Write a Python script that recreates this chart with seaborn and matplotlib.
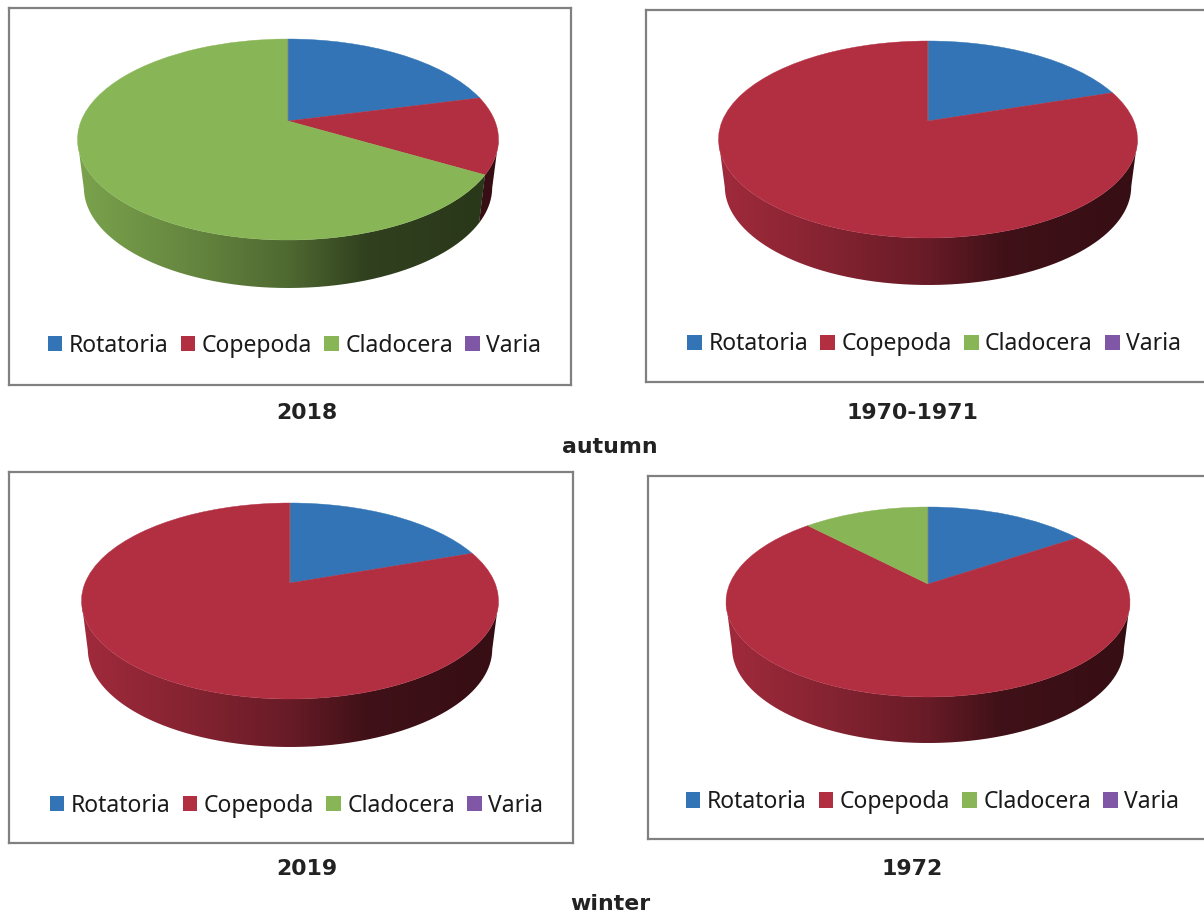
import numpy as np
import matplotlib
matplotlib.use("Agg")
import matplotlib.pyplot as plt
from matplotlib.patches import Patch, PathPatch
from matplotlib.path import Path
from matplotlib.transforms import Transform
import seaborn as sns

# ---- data (percent shares) ----
categories = ["Rotatoria", "Copepoda", "Cladocera", "Varia"]
values_2018 = [21.0, 12.4, 66.6, 0.0]
values_1970 = [19.9, 80.1, 0.0, 0.0]
values_2019 = [19.6, 80.4, 0.0, 0.0]
values_1972 = [15.6, 72.3, 12.1, 0.0]
colors = ["#3274b5", "#b22f42", "#88b555", "#7f57a6"]
year_labels = ["2018", "1970-1971", "2019", "1972"]
season_labels = ["autumn", "winter"]

W, H = 1204, 916

# frame (x0, y0, x1, y1), pie apex (cx, cy), top, bottom, left, right of the ellipse, depth, legend centre
layout = [
    (values_2018, (9, 8, 571, 385), (288, 121), 39, 240, 78, 499, 48, (294.5, 345.5)),
    (values_1970, (646, 10, 1210, 382), (928, 121), 41, 238, 719, 1138, 47, (934, 344.5)),
    (values_2019, (9, 472, 573, 843), (290, 583), 503, 699, 82, 499, 48, (296.5, 805.5)),
    (values_1972, (648, 476, 1210, 839), (928, 584), 507, 697, 726, 1130, 46, (932.5, 802)),
]
year_pos = [(307, 413), (912, 413), (307, 869), (912, 869)]
season_pos = [(610, 447), (610, 904)]


class Perspective(Transform):
    """Maps the unit pie disc on to a tilted ellipse, with the centre off-middle."""
    input_dims = output_dims = 2

    def __init__(self, cx, cy, a, b, k):
        super().__init__()
        self.p = (cx, cy, a, b, k)

    def transform_non_affine(self, xy):
        cx, cy, a, b, k = self.p
        xy = np.asarray(xy, float)
        w = 1 + k * xy[:, 1]
        return np.column_stack([cx + a * xy[:, 0] / w, cy - b * xy[:, 1] / w])


def shade(t):
    return np.interp(t, [0, .3, .5, .68, 1], [.90, .72, .58, .36, .30])


sns.set_theme(style="white")
plt.rcParams["font.family"] = ["Noto Sans", "DejaVu Sans"]
fig = plt.figure(figsize=(W / 100, H / 100), dpi=100, facecolor="white")
palette = sns.color_palette(colors)

for vals, frame, (cx, cy), top, bot, left, right, depth, leg in layout:
    x0, y0, x1, y1 = frame
    ax = fig.add_axes([x0 / W, 1 - y1 / H, (x1 - x0) / W, (y1 - y0) / H])
    wedges, _ = ax.pie(vals, colors=palette, startangle=90, counterclock=False, radius=1)

    up, down = cy - top, bot - cy
    k = (down - up) / (down + up)
    b = up * (1 + k)
    half = (right - left) / 2
    a = half * np.sqrt(1 - k * k)
    P = Perspective(cx, cy, a, b, k)
    for w in wedges:
        w.set_transform(P + ax.transData)
        w.set_edgecolor(w.get_facecolor())
        w.set_linewidth(0.3)
        w.set_zorder(3)

    # the rim below the top face: a horizontal gradient clipped to each slice's side,
    # starting at the widest points of the tilted ellipse
    mid = (left + right) / 2
    edges = np.cumsum([0] + list(vals)) / sum(vals) * 360
    ramp = np.linspace(0, 1, 256)
    for i, col in enumerate(palette):
        if vals[i] <= 0:
            continue
        th = np.radians(90 - np.arange(edges[i], edges[i + 1] + .25, .25))
        th = th[np.sin(th) < -k]
        if len(th) < 2:
            continue
        pts = P.transform_non_affine(np.column_stack([np.cos(th), np.sin(th)]))
        low = np.column_stack([mid + (pts[:, 0] - mid) * .97, pts[:, 1] + depth])
        poly = np.vstack([pts, low[::-1], pts[:1]])
        grad = np.outer(shade(ramp), np.array(col))[None, :, :]
        im = ax.imshow(grad, extent=(left, right, bot + depth + 5, top), aspect="auto",
                       interpolation="bilinear", zorder=2)
        im.set_clip_path(PathPatch(Path(poly), transform=ax.transData))

    ax.set_aspect("auto")
    ax.set_xlim(x0, x1)
    ax.set_ylim(y1, y0)
    ax.set_frame_on(True)
    for s in ax.spines.values():
        s.set_color("#808080")
        s.set_linewidth(1.6)

    handles = [Patch(facecolor=c, edgecolor="none", label=n) for c, n in zip(palette, categories)]
    ax.legend(handles=handles, ncol=4, loc="center", bbox_to_anchor=leg,
              bbox_transform=ax.transData, frameon=False, fontsize=16.5,
              handlelength=0.65, handleheight=0.65, handletextpad=0.28,
              columnspacing=0.52, borderpad=0, borderaxespad=0, labelcolor="#1a1a1a")

for lab, (x, y) in zip(year_labels + season_labels, year_pos + season_pos):
    fig.text(x / W, 1 - y / H, lab, ha="center", va="center", fontsize=15.8,
             fontweight="bold", family="DejaVu Sans", color="#222222")

fig.savefig("out.png", dpi=100, facecolor="white")
